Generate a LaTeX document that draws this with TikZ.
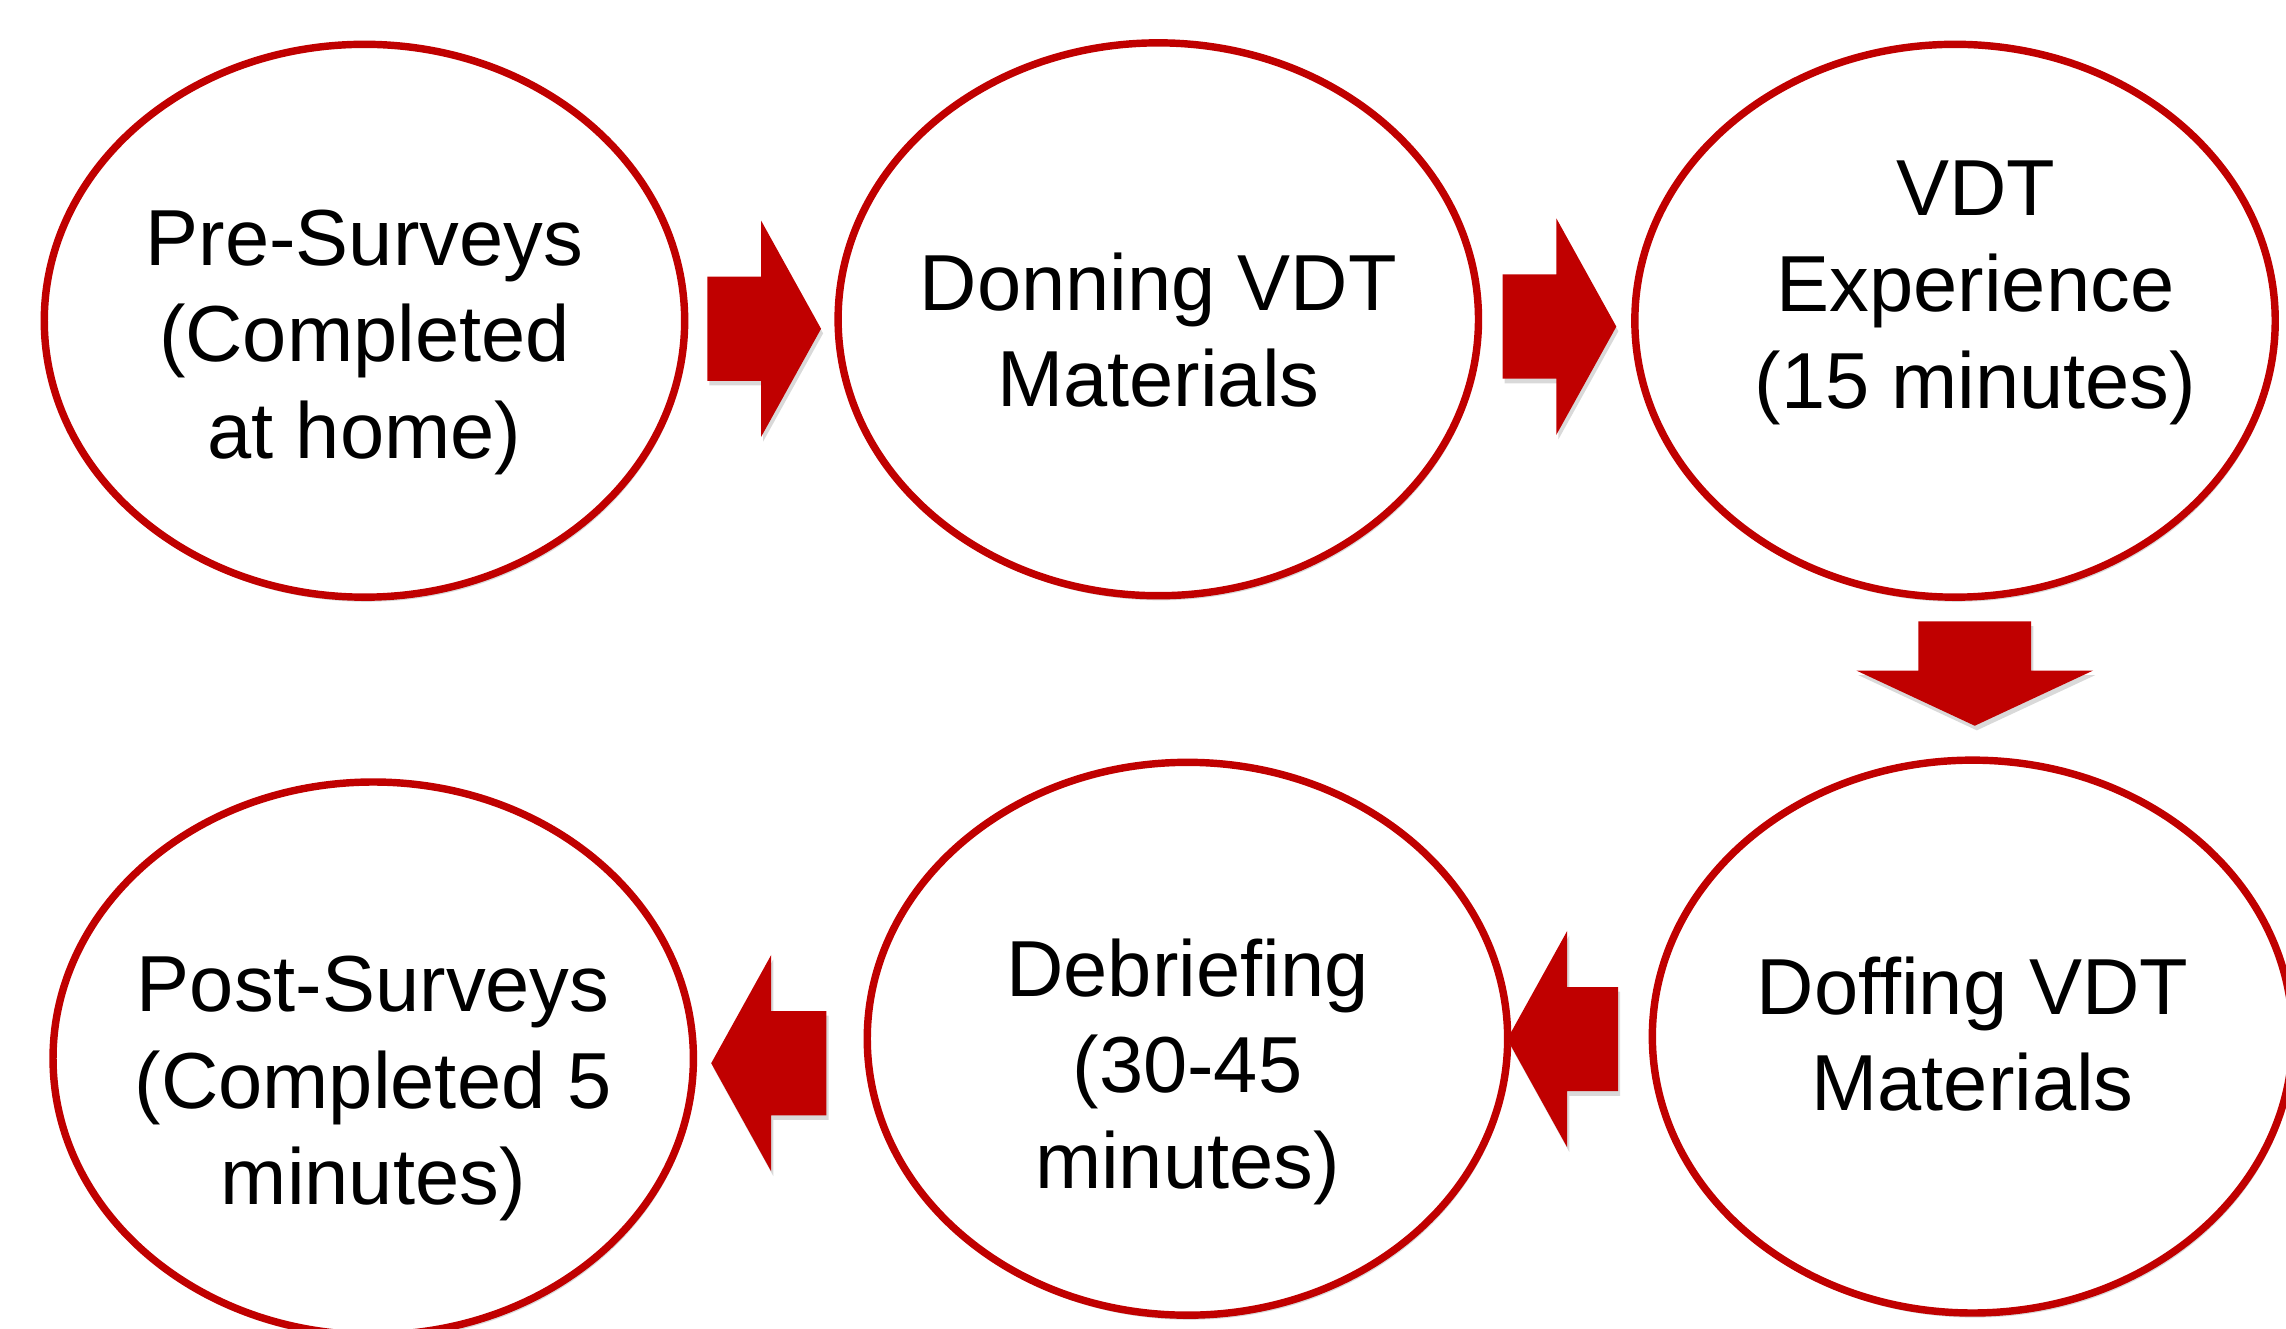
\documentclass[tikz,border=0pt]{standalone}
\usepackage{fontspec}
\setmainfont{Liberation Sans}
\usetikzlibrary{shapes.geometric,shapes.arrows,shadows}
\definecolor{stepred}{HTML}{C00000}

\begin{document}
\begin{tikzpicture}[x=0.01cm, y=0.01cm]
  \tikzstyle{stage}=[ellipse, draw=stepred, line width=1.45pt, fill=white, minimum width=4.39cm, minimum height=3.79cm, inner sep=0pt, drop shadow={shadow xshift=0.4pt, shadow yshift=-0.9pt, opacity=0.3}]
  \tikzstyle{stagetext}=[align=center, inner sep=0pt, font=\fontsize{15.5}{18.8}\selectfont, execute at begin node=\strut, execute at end node=\strut]
  \tikzstyle{flow}=[single arrow, fill=stepred, draw=none, inner xsep=0pt, inner ysep=0.35cm, minimum height=0.78cm, single arrow head extend=0.385cm, single arrow tip angle=122, drop shadow={shadow xshift=0.4pt, shadow yshift=-0.9pt, opacity=0.3}]
  \useasboundingbox (0,0) rectangle (1568,911);

  % top row
  \node[stage] (pre) at (250,691) {};
  \node[stage] (don) at (794.5,692) {};
  \node[stage] (vdt) at (1341,691) {};
  % bottom row
  \node[stage] (doff) at (1353,200) {};
  \node[stage] (deb) at (814.5,198.5) {};
  \node[stage] (post) at (256,185) {};

  \node[stagetext] (pre-t) at ([yshift=-0.19cm]pre.center) {Pre-Surveys\\(Completed\\at home)};
  \node[stagetext] (don-t) at ([yshift=-0.17cm]don.center) {Donning VDT\\Materials};
  \node[stagetext] (vdt-t) at ([xshift=0.14cm, yshift=0.15cm]vdt.center) {VDT\\Experience\\(15 minutes)};
  \node[stagetext] (doff-t) at ([yshift=-0.08cm]doff.center) {Doffing VDT\\Materials};
  \node[stagetext] (deb-t) at ([yshift=-0.27cm]deb.center) {Debriefing\\(30-45\\minutes)};
  \node[stagetext] (post-t) at ([yshift=-0.25cm]post.center) {Post-Surveys\\(Completed 5\\minutes)};

  % block arrows
  \path (pre) -- node[flow, xshift=-0.08cm, yshift=-0.06cm] (a1) {} (don);
  \path (don) -- node[flow, xshift=-0.08cm, yshift=-0.045cm] (a2) {} (vdt);
  \path (vdt) -- node[flow, xshift=0.075cm, yshift=0.125cm, rotate=-90, inner ysep=0.38cm, minimum height=0.715cm, single arrow head extend=0.425cm, single arrow tip angle=130] (a3) {} (doff);
  \path (doff) -- node[flow, xshift=-0.02cm, yshift=-0.01cm, rotate=180, minimum height=0.76cm] (a4) {} (deb);
  \path (deb) -- node[flow, xshift=0.02cm, yshift=-0.1cm, rotate=180, minimum height=0.79cm] (a5) {} (post);
\end{tikzpicture}
\end{document}
